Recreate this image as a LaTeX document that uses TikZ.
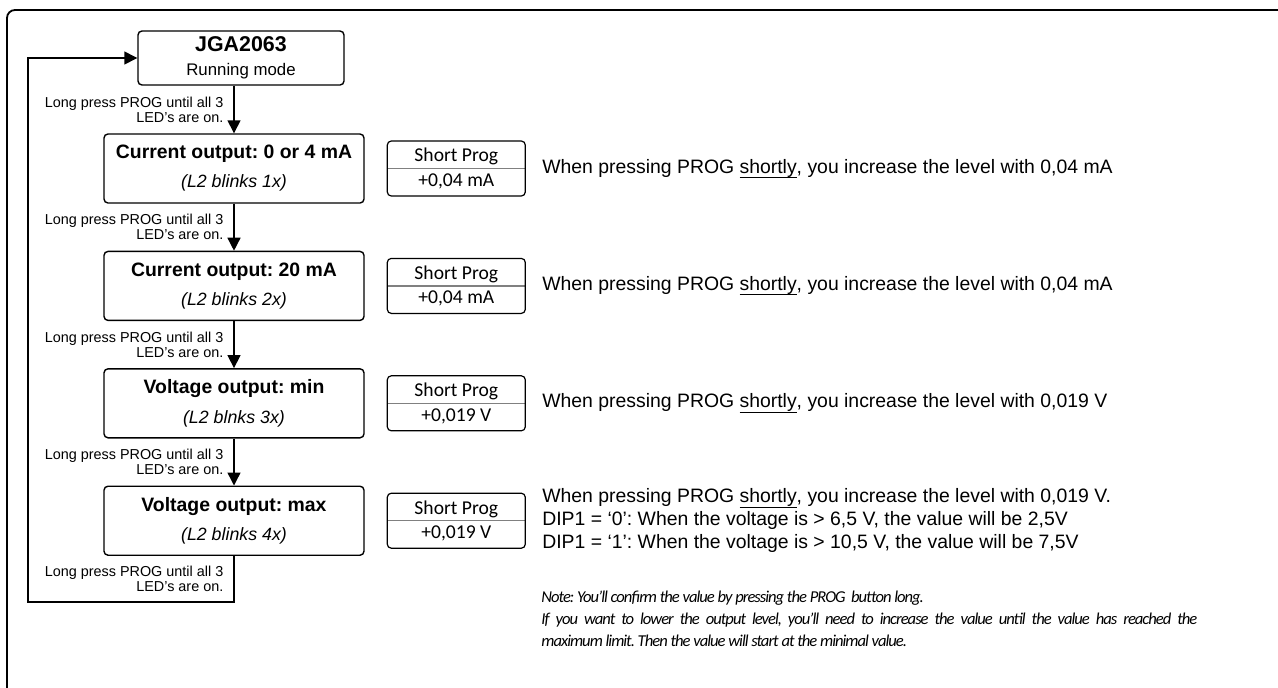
\documentclass[tikz,border=0pt]{standalone}
\usepackage{fontspec}
\setmainfont{Liberation Sans}
\newfontfamily\calibri{Carlito}
\newfontfamily\calibrinote[LetterSpace=-6]{Carlito}
\usetikzlibrary{positioning, arrows.meta}
\frenchspacing
\newcommand\progul[1]{\setbox0\hbox{#1}\rlap{\rule[-2.4pt]{\wd0}{0.5pt}}\box0}

\begin{document}
\begin{tikzpicture}[
    x=0.5pt, y=-0.5pt,
    node distance=23.5pt and 11pt,
    modebox/.style={rectangle, draw, line width=0.7pt, rounded corners=2pt, text centered, align=center, minimum width=130pt, minimum height=34.5pt, inner sep=0pt, font=\fontsize{9.7}{14.5}\selectfont},
    shortbox/.style={rectangle, draw, line width=0.6pt, rounded corners=2pt, align=center, minimum width=69pt, minimum height=27.5pt, inner sep=0pt, font=\calibri\fontsize{9.8}{12.2}\selectfont,
        path picture={\draw[gray, line width=0.6pt] (path picture bounding box.west) -- (path picture bounding box.east);}},
    info/.style={inner sep=0pt, align=left, font=\fontsize{9.7}{11.5}\selectfont},
    notetext/.style={inner sep=0pt, align=left, font=\calibrinote\itshape\fontsize{8.3}{11}\selectfont},
    lbl/.style={left, inner xsep=5pt, inner ysep=0pt, align=right, font=\fontsize{7.2}{7.4}\selectfont},
    arrow/.style={-{Triangle[length=6.5pt, width=6.5pt]}, line width=0.7pt}
]
    \useasboundingbox (0,0) rectangle (1278,687);
    \clip (0,0) rectangle (1278,687);
    \draw[line width=0.9pt, rounded corners=4pt] (7,10) rectangle (1300,710);

    % operating modes
    \node[modebox, minimum width=103pt, minimum height=27pt, font=\fontsize{8.4}{12}\selectfont] (run) at (241,58) {{\bfseries\fontsize{10.7}{12}\selectfont JGA2063}\\Running mode};
    \node[modebox] (m1) at (234,168.5) {\textbf{Current output: 0 or 4 mA}\\{\itshape\fontsize{8.9}{14.5}\selectfont (L2 blinks 1x)}};
    \node[modebox, below=of m1] (m2) {\textbf{Current output: 20 mA}\\{\itshape\fontsize{8.9}{14.5}\selectfont (L2 blinks 2x)}};
    \node[modebox, below=of m2] (m3) {\textbf{Voltage output: min}\\{\itshape\fontsize{8.9}{14.5}\selectfont (L2 blnks 3x)}};
    \node[modebox, below=of m3] (m4) {\textbf{Voltage output: max}\\{\itshape\fontsize{8.9}{14.5}\selectfont (L2 blinks 4x)}};

    % short press steps
    \node[shortbox, right=of m1] (s1) {Short Prog\\+0,04 mA};
    \node[shortbox, right=of m2] (s2) {Short Prog\\+0,04 mA};
    \node[shortbox, right=of m3] (s3) {Short Prog\\+0,019 V};
    \node[shortbox, right=of m4] (s4) {Short Prog\\+0,019 V};

    \node[info, right=8pt of s1] (d1) {When pressing PROG \progul{shortly}, you increase the level with 0,04 mA};
    \node[info, right=8pt of s2] (d2) {When pressing PROG \progul{shortly}, you increase the level with 0,04 mA};
    \node[info, right=8pt of s3] (d3) {When pressing PROG \progul{shortly}, you increase the level with 0,019 V};
    \node[info, right=8pt of s4] (d4) {When pressing PROG \progul{shortly}, you increase the level with 0,019 V.\\DIP1 = ‘0’: When the voltage is > 6,5 V, the value will be 2,5V\\DIP1 = ‘1’: When the voltage is > 10,5 V, the value will be 7,5V};

    \node[notetext, anchor=west] (note) at (541,619) {Note: You’ll confirm the value by pressing the PROG\ \ button long.\\\makebox[328pt][s]{If you want to lower the output level, you’ll need to increase the value until the value has reached the}\\maximum limit. Then the value will start at the minimal value.};

    % long press transitions
    \draw[arrow] (run.south -| m1) -- node[lbl] {Long press PROG until all 3\\LED’s are on.} (m1.north);
    \draw[arrow] (m1.south) -- node[lbl] {Long press PROG until all 3\\LED’s are on.} (m2.north);
    \draw[arrow] (m2.south) -- node[lbl] {Long press PROG until all 3\\LED’s are on.} (m3.north);
    \draw[arrow] (m3.south) -- node[lbl] {Long press PROG until all 3\\LED’s are on.} (m4.north);
    \coordinate (loop) at (28,602);
    \draw[arrow] (m4.south) -- node[lbl] {Long press PROG until all 3\\LED’s are on.} (m4.south |- loop) -- (loop) |- (run.west);
\end{tikzpicture}
\end{document}
